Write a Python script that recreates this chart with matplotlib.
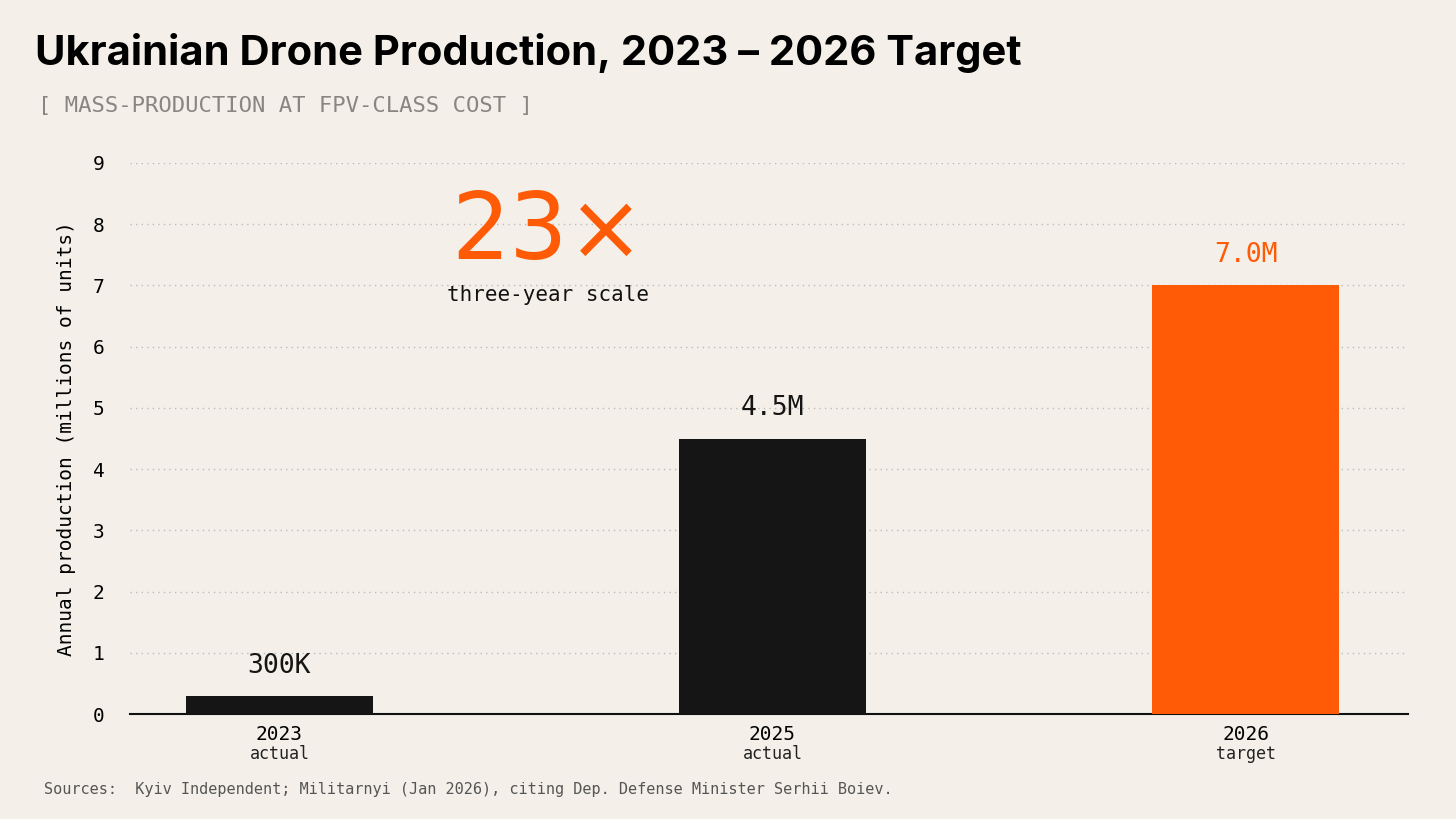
import matplotlib.pyplot as plt

years = ["2023", "2025", "2026"]
kinds = ["actual", "actual", "target"]
values = [0.3, 4.5, 7.0]
labels = ["300K", "4.5M", "7.0M"]
x_pos = [0, 1, 1.96]
colors = ["#151515", "#151515", "#ff5a05"]

bg = "#f4f0e9"
orange = "#ff5a05"
mono = "DejaVu Sans Mono"

fig = plt.figure(figsize=(14.56, 8.19), dpi=100, facecolor=bg)
ax = fig.add_axes([0.089, 0.128, 0.878, 0.673], facecolor=bg)

ax.bar(x_pos, values, width=0.38, color=colors, zorder=3)
for x, v, lab, c in zip(x_pos, values, labels, colors):
    ax.text(x, v + 0.28, lab, ha="center", va="bottom", fontsize=19,
            family=mono, color=c)

ax.set_xlim(-0.304, 2.289)
ax.set_ylim(0, 9)
ax.set_yticks(range(10))
ax.set_yticklabels([str(i) for i in range(10)], family=mono, fontsize=14)
ax.tick_params(axis="y", length=0, pad=18)
ax.set_xticks(x_pos)
ax.set_xticklabels(years, family=mono, fontsize=14)
ax.tick_params(axis="x", length=0, pad=8)
for x, k in zip(x_pos, kinds):
    ax.text(x, -0.5, k, ha="center", va="top", family=mono, fontsize=12,
            color="#222222")
ax.grid(axis="y", linestyle=(0, (1, 3)), color="#bbbbbb", linewidth=1)
for s in ["top", "right", "left"]:
    ax.spines[s].set_visible(False)
ax.spines["bottom"].set_color("#111111")
ax.spines["bottom"].set_linewidth(1.5)
ax.set_ylabel("Annual production (millions of units)", family=mono,
              fontsize=14, labelpad=12)

ax.text(0.545, 7.85, "23×", ha="center", va="center", fontsize=66,
        family="DejaVu Sans", color=orange)
ax.text(0.545, 6.85, "three-year scale", ha="center", va="center",
        family=mono, fontsize=15, color="#111111")

fig.text(0.024, 0.935, "Ukrainian Drone Production, 2023 – 2026 Target",
         fontsize=30, weight="bold", family="Inter", va="center")
fig.text(0.026, 0.871, "[ MASS-PRODUCTION AT FPV-CLASS COST ]",
         fontsize=16, family=mono, color="#8a8580", va="center")
fig.text(0.03, 0.036, "Sources:  Kyiv Independent; Militarnyi (Jan 2026), citing Dep. Defense Minister Serhii Boiev.",
         fontsize=11, family=mono, color="#555555", va="center")

fig.savefig("out.png", dpi=100, facecolor=bg)
